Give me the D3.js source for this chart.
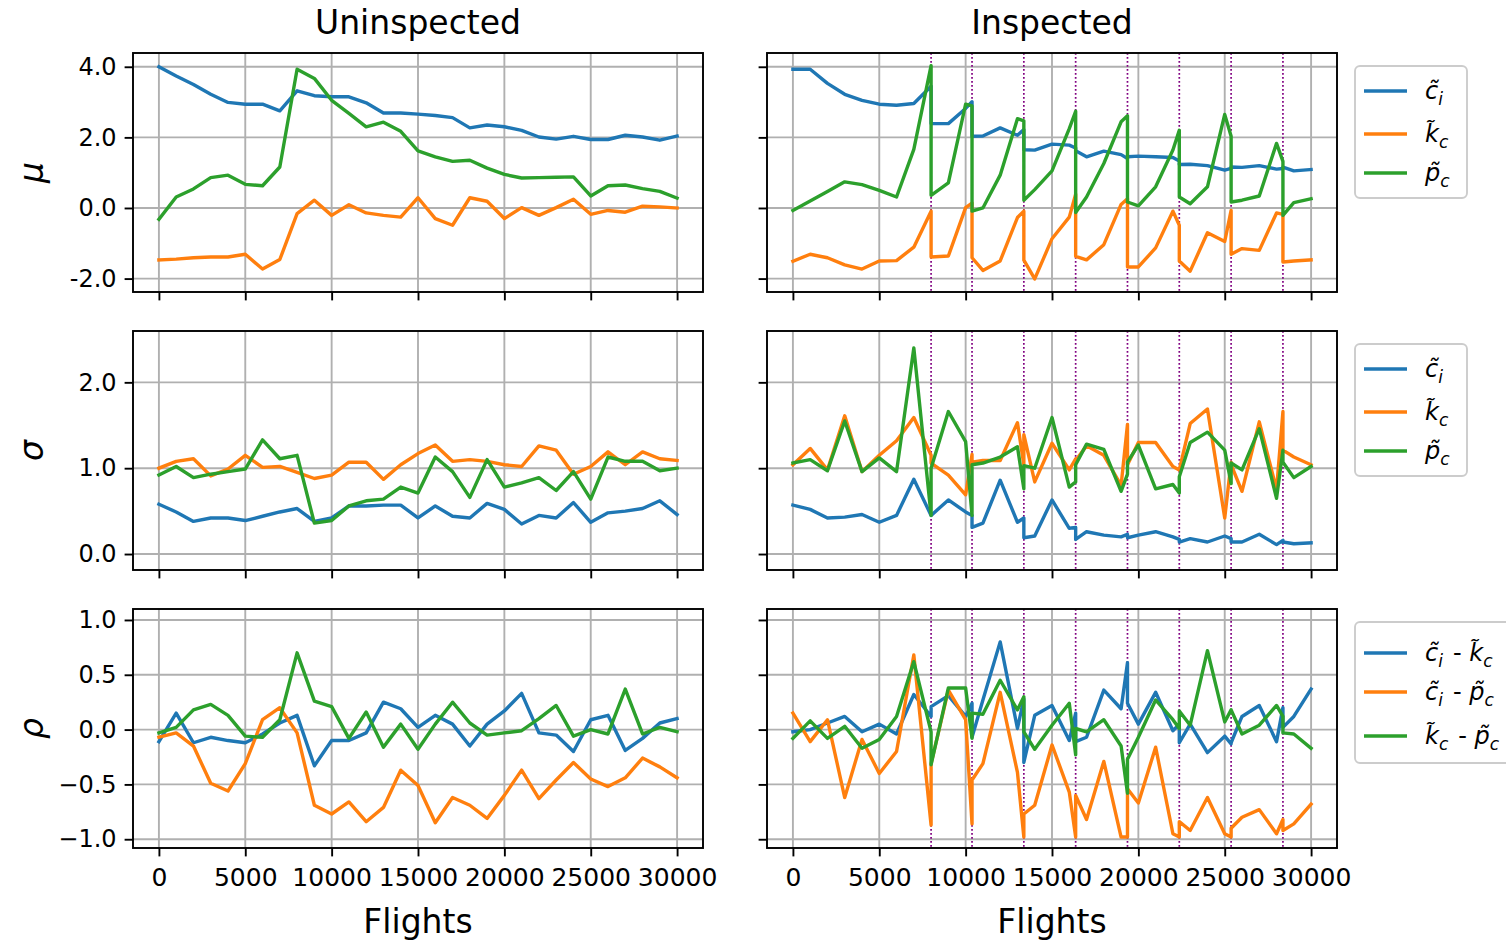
<!DOCTYPE html>
<html><head><meta charset="utf-8">
<script src="https://cdn.jsdelivr.net/npm/d3@7"></script>
<style>body{margin:0;background:#fff}svg{display:block}</style>
</head><body>
<script>
// ---------- data ----------
const flightsU = [0,1000,2000,3000,4000,5000,6000,7000,8000,9000,10000,11000,12000,13000,14000,15000,16000,17000,18000,19000,20000,21000,22000,23000,24000,25000,26000,27000,28000,29000,30000];
const flightsI = [0,1000,2000,3000,4000,5000,6000,7000,8000,8000,9000,10000,10370,10370,11000,12000,13000,13370,13370,14000,15000,16000,16370,16370,17000,18000,19000,19370,19370,20000,21000,22000,22370,22370,23000,24000,25000,25370,25370,26000,27000,28000,28370,28370,29000,30000];
const inspections = [8000,10370,13370,16370,19370,22370,25370,28370];

const muU_c = [4.00,3.74,3.50,3.22,2.99,2.94,2.94,2.75,3.32,3.18,3.15,3.15,2.98,2.69,2.69,2.66,2.62,2.56,2.27,2.35,2.30,2.20,2.01,1.95,2.03,1.94,1.94,2.06,2.01,1.92,2.04];
const muU_k = [-1.47,-1.45,-1.41,-1.39,-1.39,-1.31,-1.73,-1.46,-0.16,0.22,-0.21,0.09,-0.14,-0.21,-0.26,0.29,-0.30,-0.49,0.29,0.19,-0.30,0.01,-0.21,0.01,0.25,-0.18,-0.07,-0.12,0.05,0.03,0.00];
const muU_p = [-0.32,0.31,0.54,0.86,0.93,0.67,0.63,1.16,3.93,3.67,3.05,2.68,2.30,2.43,2.17,1.62,1.45,1.32,1.35,1.13,0.95,0.85,0.86,0.87,0.88,0.34,0.63,0.65,0.55,0.47,0.28];

const sigU_c = [0.58,0.49,0.38,0.42,0.42,0.39,0.44,0.49,0.53,0.38,0.42,0.56,0.56,0.57,0.57,0.42,0.56,0.44,0.42,0.59,0.52,0.35,0.45,0.42,0.60,0.37,0.48,0.50,0.53,0.62,0.46];
const sigU_k = [1.00,1.08,1.11,0.91,0.99,1.15,1.01,1.02,0.95,0.88,0.92,1.07,1.07,0.87,1.04,1.17,1.27,1.08,1.10,1.08,1.04,1.02,1.26,1.21,0.93,1.02,1.19,1.04,1.19,1.11,1.09];
const sigU_p = [0.92,1.02,0.89,0.93,0.96,0.99,1.33,1.11,1.15,0.36,0.39,0.56,0.62,0.64,0.78,0.71,1.13,0.96,0.66,1.10,0.78,0.83,0.89,0.74,0.96,0.64,1.13,1.08,1.08,0.97,1.00];

const rhoU_ck = [-0.11,0.15,-0.12,-0.07,-0.10,-0.12,-0.04,0.06,0.13,-0.33,-0.10,-0.10,-0.03,0.25,0.19,0.02,0.13,0.05,-0.15,0.05,0.17,0.33,-0.03,-0.05,-0.20,0.09,0.13,-0.19,-0.08,0.06,0.10];
const rhoU_cp = [-0.07,-0.03,-0.15,-0.49,-0.56,-0.31,0.09,0.20,-0.03,-0.69,-0.77,-0.66,-0.84,-0.71,-0.37,-0.51,-0.85,-0.62,-0.69,-0.81,-0.60,-0.37,-0.63,-0.46,-0.30,-0.45,-0.52,-0.44,-0.26,-0.34,-0.44];
const rhoU_kp = [-0.03,0.02,0.18,0.23,0.13,-0.06,-0.07,0.09,0.70,0.26,0.21,-0.08,0.16,-0.16,0.05,-0.18,0.05,0.25,0.06,-0.05,-0.03,-0.01,0.10,0.22,-0.06,0.00,-0.04,0.37,-0.04,0.02,-0.02];

const muI_c = [3.93,3.93,3.53,3.22,3.05,2.94,2.91,2.96,3.45,2.39,2.39,2.82,3.01,2.03,2.04,2.27,2.06,2.22,1.65,1.64,1.81,1.78,1.70,1.62,1.45,1.61,1.51,1.40,1.45,1.47,1.45,1.43,1.33,1.23,1.24,1.20,1.07,1.12,1.16,1.15,1.20,1.10,1.12,1.16,1.05,1.09];
const muI_k = [-1.51,-1.31,-1.41,-1.61,-1.73,-1.50,-1.49,-1.11,-0.09,-1.39,-1.36,0.01,0.14,-1.41,-1.77,-1.50,-0.27,-0.09,-1.48,-2.01,-0.87,-0.26,0.39,-1.37,-1.47,-1.04,0.10,0.26,-1.67,-1.67,-1.13,-0.09,-0.49,-1.50,-1.79,-0.70,-0.95,-0.07,-1.31,-1.15,-1.20,-0.14,-0.18,-1.53,-1.50,-1.47];
const muI_p = [-0.07,0.20,0.47,0.74,0.66,0.50,0.31,1.66,4.03,0.36,0.71,2.94,2.89,-0.09,0.00,0.93,2.53,2.47,0.22,0.52,1.05,2.25,2.74,-0.13,0.31,1.26,2.44,2.61,0.17,0.06,0.60,1.64,2.20,0.31,0.12,0.60,2.65,2.03,0.17,0.22,0.34,1.83,1.32,-0.21,0.15,0.26];

const sigI_c = [0.57,0.52,0.42,0.43,0.46,0.37,0.45,0.87,0.45,0.45,0.63,0.49,0.45,0.31,0.36,0.86,0.37,0.42,0.19,0.21,0.63,0.30,0.31,0.17,0.26,0.22,0.20,0.23,0.19,0.22,0.26,0.20,0.17,0.14,0.18,0.14,0.21,0.18,0.14,0.14,0.23,0.11,0.16,0.14,0.12,0.13];
const sigI_k = [1.04,1.23,0.98,1.61,0.96,1.15,1.32,1.59,1.15,1.06,0.92,0.69,1.16,1.07,1.09,1.09,1.53,1.04,1.39,0.84,1.29,0.98,1.11,1.09,1.26,1.15,0.80,1.51,1.04,1.30,1.30,1.02,0.98,0.98,1.52,1.69,0.42,1.07,1.04,0.73,1.54,0.75,1.66,1.21,1.13,1.04];
const sigI_p = [1.06,1.10,0.97,1.55,0.96,1.12,0.96,2.40,0.45,1.00,1.66,1.31,0.45,1.04,1.06,1.13,1.25,0.76,1.03,1.00,1.59,0.78,0.84,1.04,1.28,1.22,0.73,0.93,1.07,1.27,0.76,0.81,0.71,0.90,1.30,1.42,1.21,0.82,1.06,0.98,1.46,0.65,1.21,1.07,0.89,1.02];

const rhoI_ck = [-0.02,0.00,0.06,0.12,-0.02,0.05,-0.04,0.32,0.12,0.21,0.31,0.12,0.24,-0.07,0.27,0.80,0.01,0.28,-0.30,0.13,0.22,-0.10,0.15,-0.11,-0.07,0.36,0.19,0.61,0.24,0.05,0.34,-0.01,0.05,-0.12,0.05,-0.21,-0.06,-0.13,-0.12,0.12,0.22,-0.11,0.20,0.02,0.12,0.37];
const rhoI_cp = [0.15,-0.11,0.09,-0.62,-0.09,-0.40,-0.20,0.68,-0.87,-0.31,0.36,0.09,-0.86,-0.46,-0.31,0.34,-0.39,-0.98,-0.77,-0.69,-0.14,-0.57,-0.98,-0.60,-0.82,-0.29,-0.98,-0.98,-0.54,-0.67,-0.16,-0.95,-0.98,-0.84,-0.92,-0.62,-0.95,-0.98,-0.90,-0.80,-0.73,-0.95,-0.82,-0.92,-0.86,-0.68];
const rhoI_kp = [-0.08,0.08,-0.08,0.03,-0.17,-0.09,0.12,0.62,-0.02,-0.32,0.38,0.38,-0.08,0.15,0.14,0.45,0.18,0.30,-0.02,-0.18,0.04,0.24,-0.23,0.01,-0.02,0.09,-0.15,-0.58,-0.27,-0.07,0.27,0.09,0.01,0.17,0.04,0.72,0.07,0.18,0.18,-0.04,0.04,0.22,0.12,-0.03,-0.04,-0.17];

const colTitles = ["Uninspected","Inspected"];
const rowLabels = ["μ","σ","ρ"];
const xTicks = [0,5000,10000,15000,20000,25000,30000];
const xTickLabels = ["0","5000","10000","15000","20000","25000","30000"];
const muTicks = [4,2,0,-2], muTickLabels = ["4.0","2.0","0.0","-2.0"];
const sigTicks = [2,1,0], sigTickLabels = ["2.0","1.0","0.0"];
const rhoTicks = [1,0.5,0,-0.5,-1], rhoTickLabels = ["1.0","0.5","0.0","\u22120.5","\u22121.0"];
const legendSingle = [[["c","i"]],[["k","c"]],[["p","c"]]];
const legendPairs = [[["c","i"],["k","c"]],[["c","i"],["p","c"]],[["k","c"],["p","c"]]];
const colors = ["#1f77b4","#ff7f0e","#2ca02c"];

// ---------- layout ----------
const W = 1506, H = 942;
const cols = [{x0:133,x1:703},{x0:767,x1:1337}];
const rows = [
  {y0:53,y1:292,domain:[-2.38,4.39],ticks:muTicks,labels:muTickLabels,
   series:[[muU_c,muU_k,muU_p],[muI_c,muI_k,muI_p]],legend:legendSingle},
  {y0:331,y1:570,domain:[-0.186,2.598],ticks:sigTicks,labels:sigTickLabels,
   series:[[sigU_c,sigU_k,sigU_p],[sigI_c,sigI_k,sigI_p]],legend:legendSingle},
  {y0:609,y1:848,domain:[-1.08,1.10],ticks:rhoTicks,labels:rhoTickLabels,
   series:[[rhoU_ck,rhoU_cp,rhoU_kp],[rhoI_ck,rhoI_cp,rhoI_kp]],legend:legendPairs}
];
const xsByCol = [flightsU, flightsI];
const FONT = "DejaVu Sans";
const TICK = 8.4, TW = 1.9;

const svg = d3.select("body").append("svg").attr("width",W).attr("height",H)
  .style("font-family",FONT);
svg.append("rect").attr("width",W).attr("height",H).attr("fill","#fff");

rows.forEach((row,ri)=>{
  const y = d3.scaleLinear().domain(row.domain).range([row.y1,row.y0]);
  cols.forEach((col,ci)=>{
    const x = d3.scaleLinear().domain([-1500,31500]).range([col.x0,col.x1]);
    const g = svg.append("g");
    // grid
    g.selectAll(".gx").data(xTicks).join("line")
      .attr("x1",d=>x(d)).attr("x2",d=>x(d)).attr("y1",row.y0).attr("y2",row.y1)
      .attr("stroke","#b0b0b0").attr("stroke-width",1.9);
    g.selectAll(".gy").data(row.ticks).join("line")
      .attr("x1",col.x0).attr("x2",col.x1).attr("y1",d=>y(d)).attr("y2",d=>y(d))
      .attr("stroke","#b0b0b0").attr("stroke-width",1.9);
    // inspection lines
    if(ci===1){
      g.selectAll(".insp").data(inspections).join("line")
        .attr("x1",d=>x(d)).attr("x2",d=>x(d)).attr("y1",row.y0).attr("y2",row.y1)
        .attr("stroke","#800080").attr("stroke-width",1.7).attr("stroke-dasharray","1.7,2.3");
    }
    // data lines
    const xs = xsByCol[ci];
    row.series[ci].forEach((vals,si)=>{
      const line = d3.line().x((d,i)=>x(xs[i])).y(d=>y(d));
      g.append("path").attr("d",line(vals)).attr("fill","none")
        .attr("stroke",colors[si]).attr("stroke-width",3.4)
        .attr("stroke-linejoin","round").attr("stroke-linecap","square");
    });
    // axes
    const ax = d3.axisBottom(x).tickValues(xTicks).tickSize(TICK).tickPadding(8)
      .tickFormat((d,i)=> ri===2 ? xTickLabels[i] : "");
    const gx = svg.append("g").attr("transform",`translate(0,${row.y1})`).call(ax);
    const ay = d3.axisLeft(y).tickValues(row.ticks).tickSize(TICK).tickPadding(8)
      .tickFormat((d,i)=> ci===0 ? row.labels[i] : "");
    const gy = svg.append("g").attr("transform",`translate(${col.x0},0)`).call(ay);
    [gx,gy].forEach(a=>{
      a.select(".domain").remove();
      a.selectAll(".tick line").attr("stroke","#000").attr("stroke-width",TW);
      a.selectAll(".tick text").attr("fill","#000").style("font-size","24px").style("font-family",FONT);
    });
    gx.selectAll(".tick text").attr("y",18).attr("dy","0.78em").style("font-size","25px");
    // frame
    svg.append("rect").attr("x",col.x0).attr("y",row.y0)
      .attr("width",col.x1-col.x0).attr("height",row.y1-row.y0)
      .attr("fill","none").attr("stroke","#000").attr("stroke-width",TW);
    // titles
    if(ri===0){
      svg.append("text").attr("x",(col.x0+col.x1)/2).attr("y",34).attr("text-anchor","middle")
        .style("font-size","33px").text(colTitles[ci]);
    }
    if(ri===2){
      svg.append("text").attr("x",(col.x0+col.x1)/2).attr("y",933).attr("text-anchor","middle")
        .style("font-size","33px").text("Flights");
    }
  });
  // row label
  svg.append("text").attr("transform",`translate(43,${(row.y0+row.y1)/2}) rotate(-90)`)
    .attr("text-anchor","middle").style("font-size","33px").style("font-style","italic")
    .text(rowLabels[ri]);

  // legend
  const lx = 1355, ly = row.y0+13;
  const lw = ri===2 ? 170 : 112, lh = ri===2 ? 141 : 132;
  svg.append("rect").attr("x",lx).attr("y",ly).attr("width",lw).attr("height",lh)
    .attr("rx",5).attr("fill","#fff").attr("fill-opacity",0.8)
    .attr("stroke","#cccccc").attr("stroke-width",1.9);
  const offs = ri===2 ? [31,70,114] : [25,68,107];
  row.legend.forEach((parts,k)=>{
    const yy = ly + offs[k];
    svg.append("line").attr("x1",lx+9).attr("x2",lx+52).attr("y1",yy).attr("y2",yy)
      .attr("stroke",colors[k]).attr("stroke-width",3.4);
    const t = svg.append("text").attr("x",lx+70).attr("y",yy+8).style("font-size","24px");
    parts.forEach((p,pi)=>{
      if(pi>0) t.append("tspan").text(" - ");
      t.append("tspan").style("font-style","italic").text(p[0]+"\u0303");
      t.append("tspan").style("font-style","italic").style("font-size","17px").attr("dy",6).text(p[1]);
      t.append("tspan").attr("dy",-6).text("\u200a");
    });
  });
});
</script>
</body></html>
